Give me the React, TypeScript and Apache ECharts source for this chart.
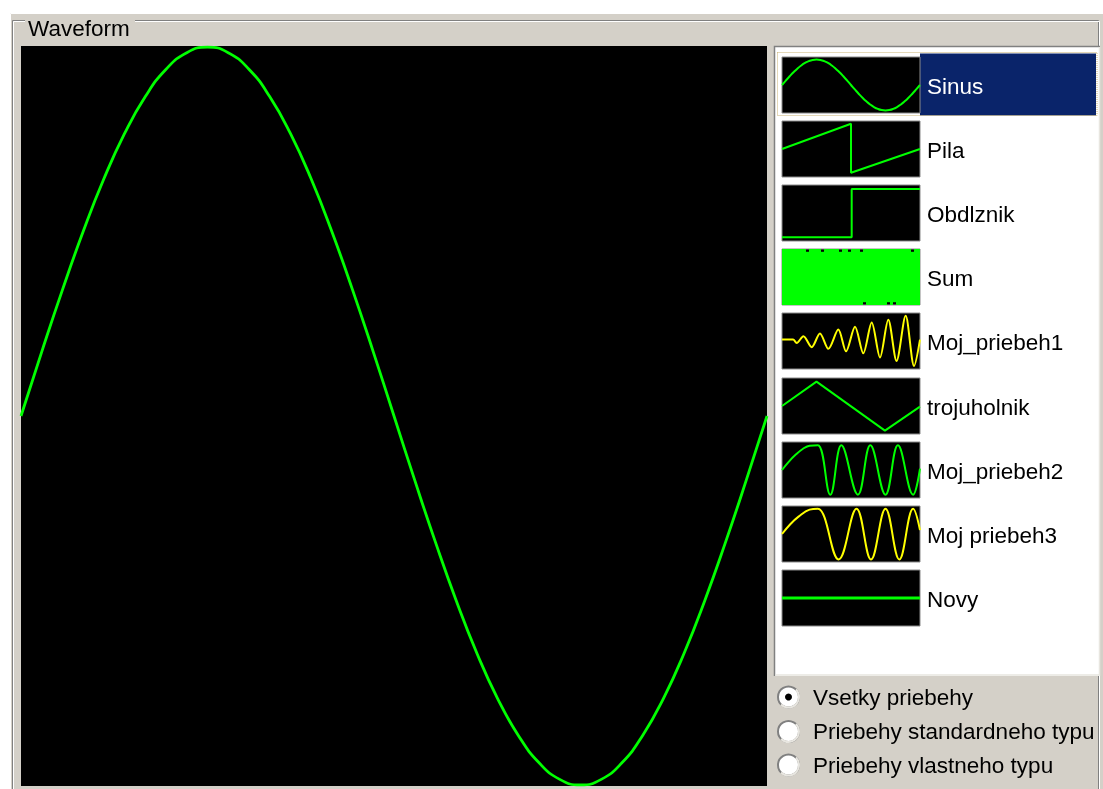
import React, { useEffect, useRef } from "react";
import * as echarts from "echarts";

const W = 1103;
const H = 789;

// Main waveform: one period of the sine, sampled every 10 degrees
const sineWave = [
  0, 0.174, 0.342, 0.5, 0.643, 0.766, 0.866, 0.94, 0.985, 1, 0.985, 0.94, 0.866, 0.766, 0.643, 0.5, 0.342, 0.174,
  0, -0.174, -0.342, -0.5, -0.643, -0.766, -0.866, -0.94, -0.985, -1, -0.985, -0.94, -0.866, -0.766, -0.643, -0.5,
  -0.342, -0.174, 0,
];

// Thumbnail waveforms: [x fraction, normalized value]
const pilaWave = [[0, 0], [0.5, 0.9], [0.5, -0.85], [1, 0]];
const obdlznikWave = [[0, -0.87], [0.505, -0.87], [0.505, 0.86], [1, 0.86]];
const noiseTop = [
  1, 1, 1, 1, 1, 1, 1, 1, 0.9, 1, 1, 1, 1, 0.9, 1, 1, 1, 1, 1, 0.9, 1, 1, 0.9, 1, 1, 1, 0.9, 1, 1, 1, 1, 1, 1, 1,
  1, 1, 1, 1, 1, 1, 1, 1, 1, 0.9, 1, 1,
];
const noiseBottom = [
  -1, -1, -1, -1, -1, -1, -1, -1, -1, -1, -1, -1, -1, -1, -1, -1, -1, -1, -1, -1, -1, -1, -1, -1, -1, -1, -1, -0.9,
  -1, -1, -1, -1, -1, -1, -1, -0.9, -1, -0.9, -1, -1, -1, -1, -1, -1, -1, -1,
];
const mojPriebeh1Wave = [
  [0, 0.05], [0.08, 0.05], [0.106, -0.07], [0.155, 0.17], [0.215, -0.22], [0.275, 0.27], [0.336, -0.28],
  [0.408, 0.41], [0.464, -0.37], [0.529, 0.51], [0.589, -0.44], [0.65, 0.66], [0.71, -0.59], [0.77, 0.76],
  [0.83, -0.71], [0.896, 0.9], [0.957, -0.89], [1, 0.05],
];
const trojuholnikWave = [[0, 0], [0.25, 0.87], [0.746, -0.88], [1, -0.02]];
const mojPriebeh2Wave = [
  [0, 0], [0.05, 0.3], [0.1, 0.55], [0.15, 0.75], [0.2, 0.87], [0.26, 0.88], [0.35, -0.88], [0.43, 0.88],
  [0.55, -0.88], [0.64, 0.88], [0.75, -0.88], [0.84, 0.88], [0.95, -0.88], [1, 0.05],
];
const mojPriebeh3Wave = [
  [0, 0], [0.06, 0.35], [0.12, 0.62], [0.2, 0.87], [0.26, 0.9], [0.41, -0.91], [0.54, 0.9], [0.645, -0.91],
  [0.75, 0.9], [0.85, -0.91], [0.95, 0.9], [1, 0.14],
];
const novyWave = [[0, 0], [1, 0]];

const waveNames = ["Sinus", "Pila", "Obdlznik", "Sum", "Moj_priebeh1", "trojuholnik", "Moj_priebeh2", "Moj priebeh3", "Novy"];
const waveColors = ["#00ff00", "#00ff00", "#00ff00", "#00ff00", "#ffff00", "#00ff00", "#00ff00", "#ffff00", "#00ff00"];
const radioLabels = ["Vsetky priebehy", "Priebehy standardneho typu", "Priebehy vlastneho typu"];
const selectedWave = 0;
const selectedRadio = 0;

const FONT = "22.5px 'Liberation Sans', Arial, sans-serif";
const GRAY = "#d4d0c8";
const NAVY = "#0a246a";

function buildOption() {
  const thumbLeft = 782;
  const thumbTop0 = 56.5;
  const thumbStep = 64.2;
  const thumbW = 138;
  const thumbH = 56;
  const thumbTop = (i: number) => Math.round(thumbTop0 + i * thumbStep);

  const grids: any[] = [
    { left: 21, top: 46, width: 746, height: 740, show: true, backgroundColor: "#000", borderWidth: 0 },
  ];
  const xAxes: any[] = [{ gridIndex: 0, type: "value", min: 0, max: sineWave.length - 1, show: false }];
  const yAxes: any[] = [{ gridIndex: 0, type: "value", min: -1.003, max: 1.003, show: false }];
  const series: any[] = [
    {
      type: "line",
      xAxisIndex: 0,
      yAxisIndex: 0,
      data: sineWave.map((v, i) => [i, v]),
      smooth: true,
      symbol: "none",
      clip: false,
      lineStyle: { color: "#00ff00", width: 2.8 },
    },
  ];

  const thumbData: any[] = [
    sineWave.map((v, i) => [i / (sineWave.length - 1), v]),
    pilaWave,
    obdlznikWave,
    null,
    mojPriebeh1Wave,
    trojuholnikWave,
    mojPriebeh2Wave,
    mojPriebeh3Wave,
    novyWave,
  ];
  const smoothness = [true, false, false, false, 0.3, false, 0.4, 0.4, false];

  waveNames.forEach((name, i) => {
    const gi = i + 1;
    grids.push({
      left: thumbLeft,
      top: thumbTop(i),
      width: thumbW,
      height: thumbH,
      show: true,
      backgroundColor: "#000",
      borderColor: "#8a8a8a",
      borderWidth: 1,
    });
    if (thumbData[i] === null) {
      xAxes.push({ gridIndex: gi, type: "category", data: noiseTop.map((_, k) => String(k)), show: false });
      yAxes.push({ gridIndex: gi, type: "value", min: -1, max: 1, show: false });
      const barStyle = { color: waveColors[i] };
      series.push(
        {
          type: "bar",
          xAxisIndex: gi,
          yAxisIndex: gi,
          data: noiseTop,
          barGap: "-100%",
          barCategoryGap: "0%",
          itemStyle: barStyle,
        },
        {
          type: "bar",
          xAxisIndex: gi,
          yAxisIndex: gi,
          data: noiseBottom,
          barGap: "-100%",
          barCategoryGap: "0%",
          itemStyle: barStyle,
        }
      );
    } else {
      const yRange = i === 0 ? 1.1 : 1;
      xAxes.push({ gridIndex: gi, type: "value", min: 0, max: 1, show: false });
      yAxes.push({ gridIndex: gi, type: "value", min: -yRange, max: yRange, show: false });
      series.push({
        type: "line",
        xAxisIndex: gi,
        yAxisIndex: gi,
        data: thumbData[i],
        smooth: smoothness[i],
        symbol: "none",
        lineStyle: { color: waveColors[i], width: i === 8 ? 3 : 2 },
      });
    }
  });

  const graphics: any[] = [];
  // window background
  graphics.push({ type: "rect", z: -1, shape: { x: 10, y: 13, width: W - 10, height: H - 13 }, style: { fill: GRAY } });
  graphics.push({ type: "rect", z: -1, shape: { x: 10.5, y: 13.5, width: W - 9, height: H }, style: { fill: "none", stroke: "#ffffff", lineWidth: 1 } });
  // group box etched frame
  graphics.push({ type: "rect", z: -1, shape: { x: 12.5, y: 20.5, width: 1086, height: 800 }, style: { fill: "none", stroke: "#808080", lineWidth: 1 } });
  graphics.push({ type: "rect", z: -1, shape: { x: 13.5, y: 21.5, width: 1086, height: 800 }, style: { fill: "none", stroke: "#ffffff", lineWidth: 1 } });
  graphics.push({ type: "rect", z: -1, shape: { x: 25, y: 14, width: 110, height: 16 }, style: { fill: GRAY } });
  graphics.push({
    type: "text",
    x: 28,
    y: 28,
    style: { text: "Waveform", font: FONT, fill: "#000", verticalAlign: "middle", align: "left" },
  });
  // list box
  graphics.push({ type: "rect", z: -1, shape: { x: 774, y: 46, width: 326, height: 630 }, style: { fill: "#ffffff" } });
  graphics.push({ type: "polyline", z: -1, shape: { points: [[774.5, 676], [774.5, 46.5], [1100, 46.5]] }, style: { fill: "none", stroke: "#808080", lineWidth: 1.5 } });
  graphics.push({ type: "polyline", z: -1, shape: { points: [[775.5, 675], [1099.5, 675], [1099.5, 47]] }, style: { fill: "none", stroke: "#e8e6e0", lineWidth: 1.5 } });
  // selection highlight
  const selTop = thumbTop(selectedWave);
  graphics.push({ type: "rect", z: -1, shape: { x: 920, y: selTop - 3.5, width: 176, height: 62 }, style: { fill: NAVY } });
  graphics.push({
    type: "rect",
    shape: { x: 777.5, y: selTop - 4.5, width: 1097 - 777.5, height: 63 },
    style: { fill: "none", stroke: "#c8b070", lineWidth: 1, lineDash: [1, 1] },
  });
  // list labels
  waveNames.forEach((name, i) => {
    graphics.push({
      type: "text",
      x: 927,
      y: thumbTop(i) + thumbH / 2 + 1,
      style: {
        text: name,
        font: FONT,
        fill: i === selectedWave ? "#ffffff" : "#000000",
        verticalAlign: "middle",
        align: "left",
      },
    });
  });
  // radio buttons
  const radioY = [697, 731.5, 765];
  radioLabels.forEach((label, i) => {
    graphics.push({
      type: "circle",
      shape: { cx: 788.5, cy: radioY[i], r: 10.5 },
      style: { fill: "#ffffff", stroke: "#808080", lineWidth: 2 },
    });
    graphics.push({
      type: "arc",
      shape: { cx: 788.5, cy: radioY[i], r: 10.5, startAngle: -Math.PI * 0.25, endAngle: Math.PI * 0.75 },
      style: { fill: "none", stroke: "#e8e6e0", lineWidth: 2 },
    });
    if (i === selectedRadio) {
      graphics.push({ type: "circle", shape: { cx: 788.5, cy: radioY[i], r: 3.5 }, style: { fill: "#000000" } });
    }
    graphics.push({
      type: "text",
      x: 813,
      y: radioY[i],
      style: { text: label, font: FONT, fill: "#000000", verticalAlign: "middle", align: "left" },
    });
  });

  return {
    animation: false,
    grid: grids,
    xAxis: xAxes,
    yAxis: yAxes,
    series,
    graphic: { elements: graphics },
  };
}

export default function App() {
  const ref = useRef<HTMLDivElement>(null);
  useEffect(() => {
    if (!ref.current) return;
    const chart = echarts.init(ref.current, null, { renderer: "svg", width: W, height: H });
    chart.setOption(buildOption());
    return () => chart.dispose();
  }, []);
  return <div ref={ref} style={{ position: "fixed", left: 0, top: 0, width: W, height: H }} />;
}
